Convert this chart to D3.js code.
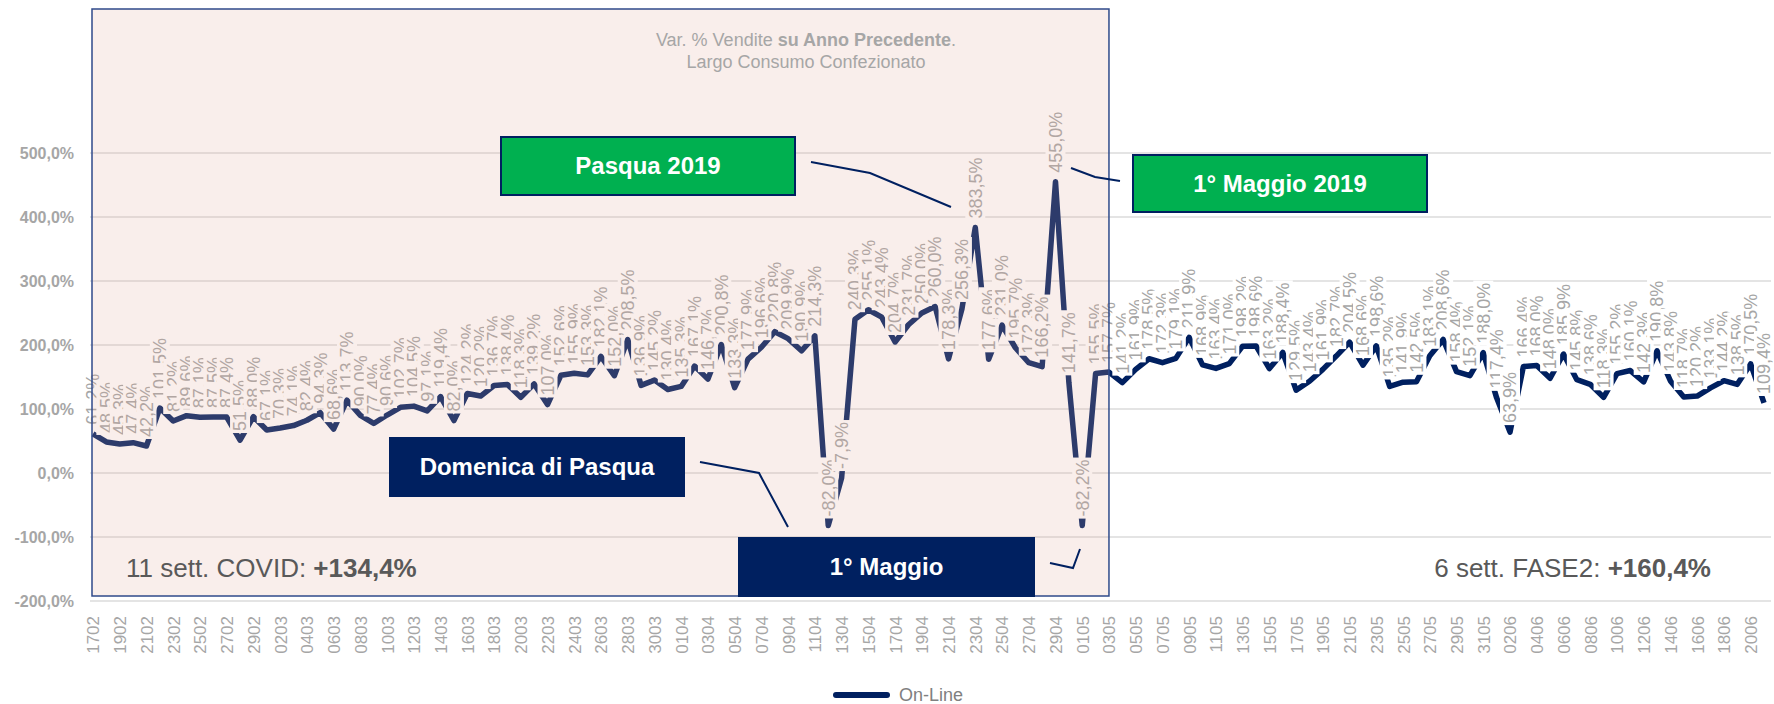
<!DOCTYPE html>
<html>
<head>
<meta charset="utf-8">
<script src="https://cdn.jsdelivr.net/npm/d3@7"></script>
<style>
  body { margin: 0; background: #fff; }
  svg { display: block; font-family: "Liberation Sans", Arial, sans-serif; }
</style>
</head>
<body>
<svg id="chart"></svg>
<script>
// Categories: days (ddmm) from 17 Feb to 21 Jun 2020
const dates = [
  "1702","1802","1902","2002","2102","2202","2302","2402","2502","2602","2702","2802","2902",
  "0103","0203","0303","0403","0503","0603","0703","0803","0903","1003","1103","1203","1303","1403","1503","1603",
  "1703","1803","1903","2003","2103","2203","2303","2403","2503","2603","2703","2803","2903","3003","3103",
  "0104","0204","0304","0404","0504","0604","0704","0804","0904","1004","1104","1204","1304","1404","1504",
  "1604","1704","1804","1904","2004","2104","2204","2304","2404","2504","2604","2704","2804","2904","3004",
  "0105","0205","0305","0405","0505","0605","0705","0805","0905","1005","1105","1205","1305","1405","1505",
  "1605","1705","1805","1905","2005","2105","2205","2305","2405","2505","2605","2705","2805","2905","3005","3105",
  "0106","0206","0306","0406","0506","0606","0706","0806","0906","1006","1106","1206","1306","1406","1506",
  "1606","1706","1806","1906","2006","2106"
];

// On-Line: var. % vs previous year
const online = [
  61.2, 48.5, 45.3, 47.4, 42.2, 101.5, 81.2, 89.6, 87.1, 87.5, 87.4, 51.5, 88.0,
  67.1, 70.3, 74.1, 82.4, 94.3, 68.6, 113.7, 90.0, 77.4, 90.6, 102.7, 104.5, 97.1, 119.4, 82.0, 124.2,
  120.2, 136.7, 138.4, 118.3, 139.2, 107.0, 152.6, 155.9, 153.3, 182.1, 152.0, 208.5, 136.9, 145.2, 130.4,
  135.3, 167.1, 146.7, 200.8, 133.3, 177.9, 196.6, 220.8, 209.9, 190.9, 214.3, -82.0, -7.9, 240.3, 255.1,
  243.4, 204.7, 231.7, 250.0, 260.0, 178.3, 256.3, 383.5, 177.6, 231.0, 195.7, 172.3, 166.2, 455.0, 141.7,
  -82.2, 155.5, 157.7, 141.2, 161.9, 178.5, 172.3, 179.1, 211.9, 168.9, 163.4, 171.0, 198.2, 198.6, 163.2,
  188.4, 129.5, 143.4, 161.9, 182.7, 204.5, 168.6, 198.6, 135.2, 141.9, 142.5, 183.1, 208.6, 158.4, 152.1, 188.0,
  117.4, 63.9, 166.4, 168.0, 148.0, 185.9, 145.8, 138.6, 118.3, 155.2, 160.1, 142.3, 190.8, 143.8, 118.7,
  120.2, 133.1, 144.2, 138.5, 170.5, 109.4
];

const yTicks = [-200, -100, 0, 100, 200, 300, 400, 500];

// Shaded COVID period (11 weeks) and its summary labels
const covidStart = "1702", covidEnd = "0305";
const summaryLeft = ["11 sett. COVID: ", "+134,4%"];
const summaryRight = ["6 sett. FASE2: ", "+160,4%"];

// Callout boxes: text, fill, box [x, y, w, h], leader polyline
const callouts = [
  { text: "Pasqua 2019", fill: "#00B050", box: [501, 137, 294, 58], leader: [[811, 162], [870, 173], [951, 207]] },
  { text: "1° Maggio 2019", fill: "#00B050", box: [1133, 155, 294, 57], leader: [[1071, 168], [1095, 177], [1120, 181]] },
  { text: "Domenica di Pasqua", fill: "#002060", box: [390, 438, 294, 58], leader: [[700, 462], [759, 473], [788, 527]] },
  { text: "1° Maggio", fill: "#002060", box: [739, 538, 295, 58], leader: [[1050, 563], [1073, 568], [1080, 549]] }
];

const W = 1774, H = 704;
const svg = d3.select("#chart").attr("width", W).attr("height", H);

const it = d3.formatLocale({ decimal: ",", thousands: ".", grouping: [3], currency: ["", "€"], minus: "-" });
const pct = v => it.format(".1f")(v) + "%";

const x = d3.scalePoint().domain(dates).range([93, 1764]);
const y = d3.scaleLinear().domain([-200, 500]).range([601, 153]);

// Gridlines
svg.append("g").selectAll("line")
  .data(yTicks)
  .enter().append("line")
  .attr("x1", 90).attr("x2", 1771)
  .attr("y1", d => y(d)).attr("y2", d => y(d))
  .attr("stroke", "#E4E4E4")
  .attr("stroke-width", 2);

// Y axis labels
const yAxis = svg.append("g")
  .attr("transform", "translate(77,0)")
  .call(d3.axisLeft(y).tickValues(yTicks).tickSize(0).tickPadding(3).tickFormat(pct));
yAxis.select(".domain").remove();
yAxis.selectAll("text")
  .attr("fill", "#A6A6A6")
  .style("font-size", "16px")
  .style("font-weight", "bold")
  .style("font-family", "'Liberation Sans', Arial, sans-serif");

// X axis labels (every other day)
const xAxis = svg.append("g")
  .attr("transform", "translate(0,616)")
  .call(d3.axisBottom(x).tickValues(dates.filter((d, i) => i % 2 === 0)).tickSize(0));
xAxis.select(".domain").remove();
xAxis.selectAll("text")
  .attr("y", 0).attr("x", 0).attr("dy", "0.35em")
  .attr("transform", "rotate(-90)")
  .style("text-anchor", "end")
  .attr("fill", "#A6A6A6")
  .style("font-size", "17px")
  .style("font-family", "'Liberation Sans', Arial, sans-serif");

// Series line
const line = d3.line()
  .x((d, i) => x(dates[i]))
  .y(d => y(d));

svg.append("path")
  .datum(online)
  .attr("d", line)
  .attr("fill", "none")
  .attr("stroke", "#002060")
  .attr("stroke-width", 5.5)
  .attr("stroke-linejoin", "round");

// Data labels (rotated, white background)
const labels = svg.append("g").selectAll("g")
  .data(online)
  .enter().append("g")
  .attr("transform", (d, i) => `translate(${x(dates[i])},${y(d) - 9}) rotate(-90)`);

labels.append("rect").attr("class", "lbl-bg").attr("fill", "#fff");
labels.append("text")
  .attr("x", 0)
  .attr("dy", "0.35em")
  .attr("fill", "#A6A6A6")
  .style("font-size", "18px")
  .text(d => pct(d));
labels.each(function () {
  const g = d3.select(this);
  const len = g.select("text").node().getComputedTextLength();
  g.select("rect").attr("x", -2).attr("y", -10).attr("width", len + 4).attr("height", 20);
});

// COVID shaded period (semi-transparent, drawn in front)
svg.append("rect")
  .attr("x", x(covidStart) - 1)
  .attr("y", 9)
  .attr("width", x(covidEnd) - x(covidStart) + 1)
  .attr("height", 587)
  .attr("fill", "#E2A89C")
  .attr("fill-opacity", 0.2)
  .attr("stroke", "#2F4A8A")
  .attr("stroke-width", 1.5);

// Title
const title = svg.append("text")
  .attr("x", 806).attr("y", 46)
  .attr("text-anchor", "middle")
  .attr("fill", "#A6A6A6")
  .style("font-size", "18px");
title.append("tspan").text("Var. % Vendite ");
title.append("tspan").style("font-weight", "bold").text("su Anno Precedente");
title.append("tspan").text(".");
svg.append("text")
  .attr("x", 806).attr("y", 68)
  .attr("text-anchor", "middle")
  .attr("fill", "#A6A6A6")
  .style("font-size", "18px")
  .text("Largo Consumo Confezionato");

// Callouts
callouts.forEach(c => {
  svg.append("path")
    .attr("d", d3.line()(c.leader))
    .attr("fill", "none")
    .attr("stroke", "#002060")
    .attr("stroke-width", 2);
  svg.append("rect")
    .attr("x", c.box[0]).attr("y", c.box[1])
    .attr("width", c.box[2]).attr("height", c.box[3])
    .attr("fill", c.fill)
    .attr("stroke", "#002060")
    .attr("stroke-width", 2);
  svg.append("text")
    .attr("x", c.box[0] + c.box[2] / 2)
    .attr("y", c.box[1] + c.box[3] / 2)
    .attr("dy", "0.35em")
    .attr("text-anchor", "middle")
    .attr("fill", "#fff")
    .style("font-size", "24px")
    .style("font-weight", "bold")
    .text(c.text);
});

// Period summaries
const sumL = svg.append("text")
  .attr("x", 126).attr("y", 577)
  .attr("fill", "#595959")
  .style("font-size", "26px");
sumL.append("tspan").text(summaryLeft[0]);
sumL.append("tspan").style("font-weight", "bold").text(summaryLeft[1]);

const sumR = svg.append("text")
  .attr("x", 1711).attr("y", 577)
  .attr("text-anchor", "end")
  .attr("fill", "#595959")
  .style("font-size", "26px");
sumR.append("tspan").text(summaryRight[0]);
sumR.append("tspan").style("font-weight", "bold").text(summaryRight[1]);

// Legend
svg.append("line")
  .attr("x1", 836).attr("x2", 887)
  .attr("y1", 695).attr("y2", 695)
  .attr("stroke", "#002060")
  .attr("stroke-width", 6)
  .attr("stroke-linecap", "round");
svg.append("text")
  .attr("x", 899).attr("y", 695)
  .attr("dy", "0.35em")
  .attr("fill", "#808080")
  .style("font-size", "18px")
  .text("On-Line");
</script>
</body>
</html>
